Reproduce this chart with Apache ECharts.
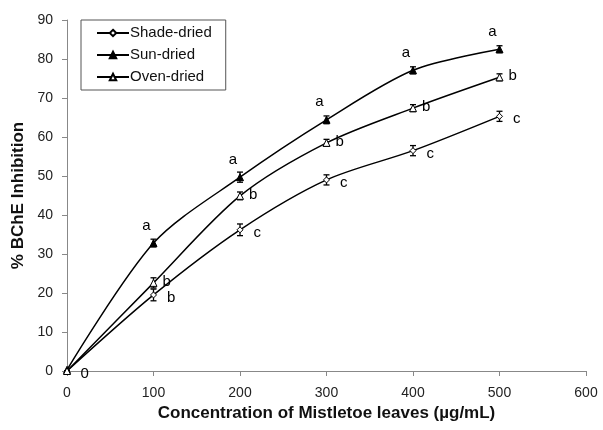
<!DOCTYPE html>
<html><head><meta charset="utf-8">
<script src="https://cdn.jsdelivr.net/npm/echarts@6/dist/echarts.min.js"></script>
<style>html,body{margin:0;padding:0;background:#fff}#c{width:603px;height:430px}</style>
</head><body><div id="c"></div>
<script>
const concentrations = [0, 100, 200, 300, 400, 500];
const shadeDried = [0, 19.5, 36.2, 49.0, 56.5, 65.3];
const sunDried = [0.3, 32.8, 49.7, 64.4, 77.1, 82.5];
const ovenDried = [0, 22.6, 44.9, 58.5, 67.4, 75.3];
const shadeErr = [0, 1.5, 1.5, 1.3, 1.3, 1.3];
const sunErr = [0, 1.0, 1.3, 1.0, 0.9, 0.9];
const ovenErr = [0, 1.3, 1.0, 0.9, 0.9, 0.9];
const shadeLetters = ['0', 'b', 'c', 'c', 'c', 'c'];
const sunLetters = ['', 'a', 'a', 'a', 'a', 'a'];
const ovenLetters = ['', 'b', 'b', 'b', 'b', 'b'];
const xTicks = [0, 100, 200, 300, 400, 500, 600];

const FONT = 'Liberation Sans, Arial, sans-serif';
const chart = echarts.init(document.getElementById('c'), null, {renderer: 'canvas'});

function pts(vals) { return concentrations.map((x, i) => [x, vals[i]]); }
function errData(vals, errs) { return concentrations.map((x, i) => [x, vals[i] - errs[i], vals[i] + errs[i]]); }
function errSeries(vals, errs) {
  return {
    type: 'custom', silent: true, z: 3,
    data: errData(vals, errs),
    renderItem: function (params, api) {
      const x = api.value(0), lo = api.value(1), hi = api.value(2);
      if (hi - lo <= 0) return null;
      const p1 = api.coord([x, lo]), p2 = api.coord([x, hi]);
      const w = 3;
      const st = {stroke: '#000', lineWidth: 1.3};
      return {type: 'group', children: [
        {type: 'line', shape: {x1: p1[0], y1: p1[1], x2: p2[0], y2: p2[1]}, style: st},
        {type: 'line', shape: {x1: p1[0] - w, y1: p1[1], x2: p1[0] + w, y2: p1[1]}, style: st},
        {type: 'line', shape: {x1: p2[0] - w, y1: p2[1], x2: p2[0] + w, y2: p2[1]}, style: st}
      ]};
    }
  };
}
function letterLabel(letters, position, offset) {
  return {
    show: true, position: position, offset: offset,
    formatter: p => letters[p.dataIndex],
    fontFamily: FONT, fontSize: 15, color: '#000'
  };
}

chart.setOption({
  animation: false,
  backgroundColor: '#fff',
  grid: {left: 67, right: 17, top: 20, bottom: 59, containLabel: false, outerBoundsMode: 'none'},
  legend: {
    left: 81, top: 20, orient: 'vertical',
    data: ['Shade-dried', 'Sun-dried', 'Oven-dried'],
    backgroundColor: '#fff',
    borderColor: '#555', borderWidth: 1, borderRadius: 0,
    padding: [4, 14, 4, 15],
    itemWidth: 32, itemHeight: 8, itemGap: 4,
    textStyle: {fontFamily: FONT, fontSize: 15, color: '#111', padding: [0, 0, 0, -4], lineHeight: 18}
  },
  xAxis: {
    type: 'value', min: 0, max: 600, interval: 100,
    name: 'Concentration of Mistletoe leaves (\u00b5g/mL)',
    nameLocation: 'middle', nameGap: 34,
    nameTextStyle: {fontFamily: FONT, fontSize: 17, fontWeight: 'bold', color: '#111'},
    axisLine: {show: true, lineStyle: {color: '#888', width: 1}},
    axisTick: {show: true, inside: false, length: 5, lineStyle: {color: '#888'}},
    axisLabel: {fontFamily: FONT, fontSize: 14, color: '#222', margin: 15,
      formatter: v => xTicks.includes(v) ? String(v) : ''},
    splitLine: {show: false}
  },
  yAxis: {
    type: 'value', min: 0, max: 90, interval: 10,
    name: '% BChE Inhibition',
    nameLocation: 'middle', nameGap: 39, nameRotate: 90,
    nameTextStyle: {fontFamily: FONT, fontSize: 17, fontWeight: 'bold', color: '#111'},
    axisLine: {show: true, lineStyle: {color: '#888', width: 1}},
    axisTick: {show: true, inside: false, length: 5, lineStyle: {color: '#888'}},
    axisLabel: {fontFamily: FONT, fontSize: 14, color: '#222', margin: 14},
    splitLine: {show: false}
  },
  series: [
    {
      name: 'Shade-dried', type: 'line', smooth: 0.3, z: 4,
      data: pts(shadeDried),
      symbol: 'diamond', symbolSize: 6, showAllSymbol: true,
      itemStyle: {color: '#fff', borderColor: '#000', borderWidth: 1},
      lineStyle: {color: '#000', width: 1.5},
      label: letterLabel(shadeLetters, 'right', [5, 3])
    },
    {
      name: 'Sun-dried', type: 'line', smooth: 0.3, z: 4,
      data: pts(sunDried),
      symbol: 'triangle', symbolSize: 7,
      itemStyle: {color: '#000', borderColor: '#000', borderWidth: 1},
      lineStyle: {color: '#000', width: 1.5},
      label: letterLabel(sunLetters, 'top', [-7, -1])
    },
    {
      name: 'Oven-dried', type: 'line', smooth: 0.3, z: 4,
      data: pts(ovenDried),
      symbol: 'triangle', symbolSize: 7,
      itemStyle: {color: '#fff', borderColor: '#000', borderWidth: 1},
      lineStyle: {color: '#000', width: 1.5},
      label: letterLabel(ovenLetters, 'right', [0, -1])
    },
    errSeries(shadeDried, shadeErr),
    errSeries(sunDried, sunErr),
    errSeries(ovenDried, ovenErr)
  ]
});
</script></body></html>
